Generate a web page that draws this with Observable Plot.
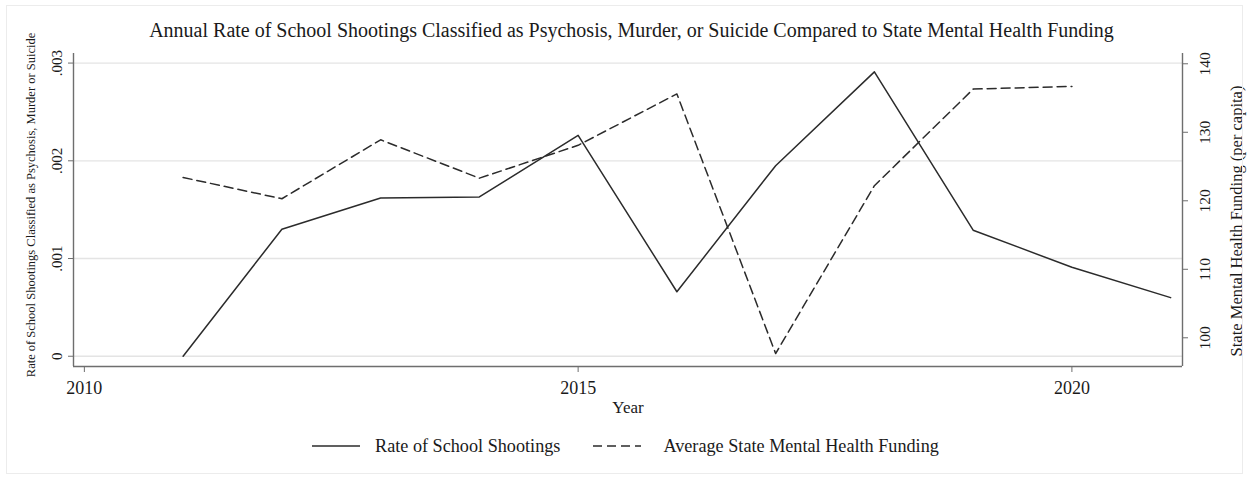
<!DOCTYPE html>
<html>
<head>
<meta charset="utf-8">
<script src="https://cdn.jsdelivr.net/npm/d3@7"></script>
<script src="https://cdn.jsdelivr.net/npm/@observablehq/plot@0.6"></script>
<style>
  html, body { margin: 0; padding: 0; background: #fff; }
  body { font-family: "Liberation Serif", "Times New Roman", serif; color: #1a1a1a; }
  #wrap { position: relative; width: 1249px; height: 480px; }
  #border { position: absolute; left: 6px; top: 5px; width: 1237px; height: 469px; border: 1px solid #ececec; box-sizing: border-box; pointer-events: none; }
  #title { position: absolute; left: 0; top: 18px; width: 1249px; box-sizing: border-box; padding-left: 14px; text-align: center; font-size: 20px; line-height: 24px; white-space: nowrap; }
  #chart svg { display: block; }
  #legend { height: 40px; display: flex; align-items: center; font-size: 18.2px; white-space: nowrap; }
  #legend svg { display: block; }
</style>
</head>
<body>
<div id="wrap">
  <div id="border"></div>
  <div id="chart"></div>
  <div id="legend"></div>
  <div id="title"></div>
</div>
<script>
// ---- data ----
const titleText = "Annual Rate of School Shootings Classified as Psychosis, Murder, or Suicide Compared to State Mental Health Funding";
const leftAxisTitle = "Rate of School Shootings Classified as Psychosis, Murder or Suicide";
const rightAxisTitle = "State Mental Health Funding (per capita)";
const xAxisTitle = "Year";
const seriesNames = ["Rate of School Shootings", "Average State Mental Health Funding"];

const rateYears = [2011, 2012, 2013, 2014, 2015, 2016, 2017, 2018, 2019, 2020, 2021];
const shootingRate = [0.0000, 0.00130, 0.00162, 0.00163, 0.00226, 0.00066, 0.00195, 0.00291, 0.00129, 0.00091, 0.00060];

const fundingYears = [2011, 2012, 2013, 2014, 2015, 2016, 2017, 2018, 2019, 2020];
const mentalHealthFunding = [123.4, 120.3, 128.9, 123.3, 128.1, 135.6, 97.7, 122.2, 136.3, 136.7];

const xTicks = [2010, 2015, 2020];
const leftTicks = [0, 0.001, 0.002, 0.003];
const rightTicks = [100, 110, 120, 130, 140];

// ---- scales / derived ----
const xDomain = [2009.89, 2021.12];
const leftDomain = [-0.000105, 0.003098];
const rightDomain = [95.81, 141.5];
const toLeft = d3.scaleLinear().domain(rightDomain).range(leftDomain);

const rateData = rateYears.map((y, i) => ({year: y, value: shootingRate[i]}));
const fundingData = fundingYears.map((y, i) => ({year: y, value: toLeft(mentalHealthFunding[i])}));

const ink = "#2b2b2b";
const axisInk = "#6e6e6e";

document.getElementById("title").textContent = titleText;

const chart = Plot.plot({
  width: 1249,
  height: 426,
  marginTop: 53,
  marginBottom: 60,
  marginLeft: 73,
  marginRight: 67,
  style: {fontFamily: "'Liberation Serif', 'Times New Roman', serif", color: "#1a1a1a", background: "transparent"},
  x: {domain: xDomain},
  y: {domain: leftDomain},
  marks: [
    Plot.ruleY(leftTicks, {stroke: "#e4e4e4", strokeWidth: 1.3}),
    Plot.ruleX([xDomain[0]], {stroke: axisInk, strokeWidth: 1.4}),
    Plot.ruleX([xDomain[1]], {stroke: axisInk, strokeWidth: 1.4}),
    Plot.ruleY([leftDomain[0]], {stroke: axisInk, strokeWidth: 1.4}),
    Plot.axisX(xTicks, {anchor: "bottom", tickSize: 6, tickPadding: 9, tickFormat: d => String(d), fontSize: 18, stroke: axisInk, label: null}),
    Plot.axisY(leftTicks, {anchor: "left", tickSize: 5, tickPadding: 7, tickRotate: -90,
      tickFormat: d => d === 0 ? "0" : d3.format(".3f")(d).slice(1), fontSize: 15, stroke: axisInk, label: null}),
    Plot.axisY(rightTicks.map(t => toLeft(t)), {anchor: "right", tickSize: 5, tickPadding: 11, tickRotate: -90, lineAnchor: "top",
      tickFormat: d => String(Math.round(toLeft.invert(d))), fontSize: 15.5, stroke: axisInk, label: null}),
    Plot.line(rateData, {x: "year", y: "value", stroke: ink, strokeWidth: 1.5}),
    Plot.line(fundingData, {x: "year", y: "value", stroke: ink, strokeWidth: 1.5, strokeDasharray: "9,5"}),
    Plot.text([leftAxisTitle], {text: d => d, frameAnchor: "left", textAnchor: "middle", rotate: -90, dx: -43, dy: -5, fontSize: 12.5}),
    Plot.text([rightAxisTitle], {text: d => d, frameAnchor: "right", textAnchor: "middle", rotate: -90, dx: 54, dy: 11, fontSize: 16.5}),
    Plot.text([xAxisTitle], {text: d => d, frameAnchor: "bottom", dy: 46, fontSize: 17})
  ]
});
document.getElementById("chart").appendChild(chart);

// ---- legend ----
const legend = document.getElementById("legend");
function sample(dash) {
  const s = d3.create("svg").attr("width", 48).attr("height", 10);
  s.append("line").attr("x1", 0).attr("x2", 48).attr("y1", 5).attr("y2", 5)
    .attr("stroke", ink).attr("stroke-width", 1.5).attr("stroke-dasharray", dash || null);
  return s.node();
}
const pad = document.createElement("span"); pad.style.width = "312px"; pad.style.flex = "none"; legend.appendChild(pad);
legend.appendChild(sample(null));
const t1 = document.createElement("span"); t1.textContent = seriesNames[0]; t1.style.marginLeft = "15px"; t1.style.marginRight = "33px"; legend.appendChild(t1);
legend.appendChild(sample("9,5"));
const t2 = document.createElement("span"); t2.textContent = seriesNames[1]; t2.style.marginLeft = "22px"; legend.appendChild(t2);
</script>
</body>
</html>
